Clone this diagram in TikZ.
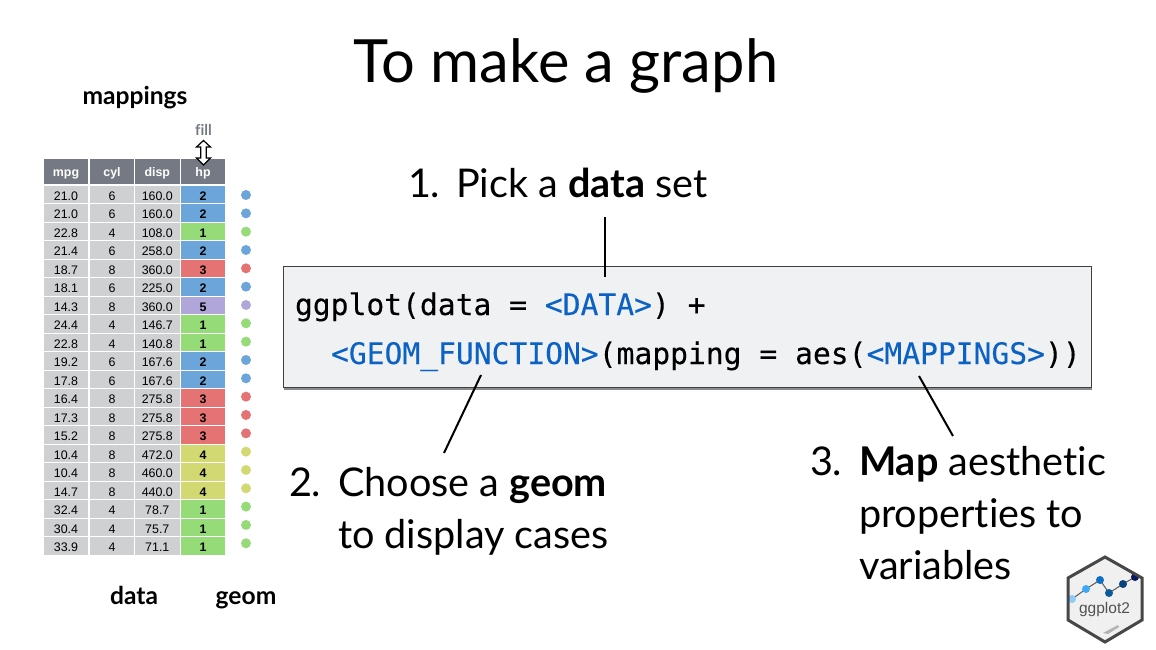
\documentclass[tikz,border=0pt]{standalone}
\usepackage{fontspec}
\setmainfont[Ligatures=NoCommon]{Lato}
\newfontfamily\tablefont{Liberation Sans}
\newfontfamily\codefont[FakeBold=0.2]{DejaVu Sans Mono}
\definecolor{hdr}{HTML}{747983}
\definecolor{cellg}{HTML}{CFD0D2}
\definecolor{cblue}{HTML}{6BA5DA}
\definecolor{cgreen}{HTML}{95DB77}
\definecolor{cred}{HTML}{E67373}
\definecolor{cpurple}{HTML}{B0A6DA}
\definecolor{cyel}{HTML}{D3D972}
\definecolor{codeblue}{HTML}{0B62C4}
\definecolor{boxfill}{HTML}{F0F1F3}
\definecolor{g1c}{HTML}{8CCBFA}
\definecolor{g2c}{HTML}{3FA9F5}
\definecolor{g3c}{HTML}{0F6FC6}
\definecolor{g4c}{HTML}{0B5A9A}
\definecolor{g5c}{HTML}{08437F}
\definecolor{g6c}{HTML}{0A1A5C}
\tikzset{
 every node/.style={inner sep=0pt,outer sep=0pt},
 cellbox/.style={minimum height=17.4pt,text height=12.2pt,text depth=0pt,font=\tablefont\fontsize{12.4}{13}\selectfont,text=black},
 hdrbox/.style={minimum height=25pt,text height=10.8pt,text depth=0.4pt,fill=hdr,text=white,font=\tablefont\bfseries\fontsize{12.4}{13}\selectfont},
 ttl/.style={font=\fontsize{59.6}{62}\selectfont},
 lab/.style={font=\bfseries\fontsize{24.6}{27}\selectfont},
 steptext/.style={font=\fontsize{39.6}{42}\selectfont,anchor=base west},
 code/.style={font=\codefont\fontsize{29.65}{32}\selectfont,anchor=base west},
 leader/.style={line width=2pt,black},
 geomdot/.style={circle,minimum size=10pt},
 gdot/.style={circle,minimum size=8pt},
}
\newcommand{\cb}[1]{\textcolor{codeblue}{#1}}
\begin{document}
\begin{tikzpicture}[x=1pt,y=-1pt]
\useasboundingbox (0,0) rectangle (1156,649);
\node[ttl,anchor=base] (title) at (566,82) {To make a graph};
\node[lab,anchor=base] (mappings) at (135,104) {mappings};
\node[lab,anchor=base] (data) at (134,604) {data};
\node[lab,anchor=base] (geom) at (246,604) {geom};
\node[anchor=base,font=\bfseries\fontsize{15}{17}\selectfont,text=hdr] (fill) at (203.5,135) {fill};
% header
\foreach \n/\x/\w/\t in {h1/66/44.5/mpg,h2/112/44.5/cyl,h3/157.3/44.5/disp,h4/203/44/hp}
  \node[hdrbox,minimum width=\w pt] (\n) at (\x,171.5) {\t};
% double arrow
\draw[draw=black,fill=white,line width=1.2pt] (203.5,140.5) -- (210.5,147) -- (206.3,147) -- (206.3,158) -- (210.5,158) -- (203.5,165) -- (196.5,158) -- (200.7,158) -- (200.7,147) -- (196.5,147) -- cycle;
% rows
\foreach \i/\a/\b/\c/\d/\col in {
0/21.0/6/160.0/2/cblue,1/21.0/6/160.0/2/cblue,2/22.8/4/108.0/1/cgreen,3/21.4/6/258.0/2/cblue,
4/18.7/8/360.0/3/cred,5/18.1/6/225.0/2/cblue,6/14.3/8/360.0/5/cpurple,7/24.4/4/146.7/1/cgreen,
8/22.8/4/140.8/1/cgreen,9/19.2/6/167.6/2/cblue,10/17.8/6/167.6/2/cblue,11/16.4/8/275.8/3/cred,
12/17.3/8/275.8/3/cred,13/15.2/8/275.8/3/cred,14/10.4/8/472.0/4/cyel,15/10.4/8/460.0/4/cyel,
16/14.7/8/440.0/4/cyel,17/32.4/4/78.7/1/cgreen,18/30.4/4/75.7/1/cgreen,19/33.9/4/71.1/1/cgreen}{
  \pgfmathsetmacro{\yy}{194.3+18.5*\i}
  \pgfmathsetmacro{\yd}{195+18.33*\i}
  \node[cellbox,fill=cellg,minimum width=44.5pt] (a\i) at (66,\yy) {\a};
  \node[cellbox,fill=cellg,minimum width=44.5pt] (b\i) at (112,\yy) {\b};
  \node[cellbox,fill=cellg,minimum width=44.5pt] (c\i) at (157.3,\yy) {\c};
  \node[cellbox,fill=\col,minimum width=44pt,font=\tablefont\bfseries\fontsize{12.4}{13}\selectfont,text=black] (d\i) at (203,\yy) {\d};
  \node[geomdot,fill=\col] (p\i) at (246,\yd) {};
}
% code box
\fill[black!45] (283.5,270) rectangle (1091.5,389.5);
\node[draw=black!75,line width=0.8pt,fill=boxfill,anchor=north west,minimum width=807.5pt,minimum height=121pt] (codebox) at (283.5,266.6) {};
\node[code] (line1) at (295,315) {ggplot(data = \cb{<DATA>}) +};
\node[code] (line2) at (331,364) {\cb{<GEOM\_FUNCTION>}(mapping = aes(\cb{<MAPPINGS>}))};
% steps
\node[steptext] (s1n) at (408,197) {1.};
\node[steptext] (s1) at (456,197) {Pick a \textbf{data} set};
\node[steptext] (s2n) at (289,496) {2.};
\node[steptext] (s2a) at (338,496) {Choose a \textbf{geom}};
\node[steptext] (s2b) at (338,548) {to display cases};
\node[steptext] (s3n) at (810,475) {3.};
\node[steptext] (s3a) at (859,475) {\textbf{Map} aesthetic};
\node[steptext] (s3b) at (859,527) {properties to};
\node[steptext] (s3c) at (859,579) {variables};
% leaders
\coordinate (l1a) at (605,217); \coordinate (l1b) at (605,277);
\coordinate (l2a) at (481,375); \coordinate (l2b) at (444,453);
\coordinate (l3a) at (919,376); \coordinate (l3b) at (953,436);
\draw[leader] (l1a) -- (l1b);
\draw[leader] (l2a) -- (l2b);
\draw[leader] (l3a) -- (l3b);
% hex logo
\coordinate (hx1) at (1105,557); \coordinate (hx2) at (1142,578); \coordinate (hx3) at (1142,620);
\coordinate (hx4) at (1105,642); \coordinate (hx5) at (1068,620); \coordinate (hx6) at (1068,578);
\begin{scope}
\clip (hx1) -- (hx2) -- (hx3) -- (hx4) -- (hx5) -- (hx6) -- cycle;
\fill[black!6] (1060,550) rectangle (1150,650);
\fill[black!30] (1103,633) -- (1118,625) -- (1119,627) -- (1108,634) -- cycle;
\node[gdot] (g1) at (1072,599) {}; \node[gdot] (g2) at (1086,589) {}; \node[gdot] (g3) at (1100,580) {};
\node[gdot] (g4) at (1109,593) {}; \node[gdot] (g5) at (1123,584) {}; \node[gdot] (g6) at (1135,577) {};
\draw[line width=1pt,black!65] (g1.center) -- (g2.center) -- (g3.center) -- (g4.center) -- (g5.center) -- (g6.center);
\fill[g1c] (g1) circle (4pt);
\fill[g2c] (g2) circle (4pt);
\fill[g3c] (g3) circle (4pt);
\fill[g4c] (g4) circle (4pt);
\fill[g5c] (g5) circle (4pt);
\fill[g6c] (g6) circle (4pt);
\end{scope}
\draw[line width=3pt,black!72,line join=miter] (hx1) -- (hx2) -- (hx3) -- (hx4) -- (hx5) -- (hx6) -- cycle;
\node[anchor=base,font=\tablefont\fontsize{15.5}{17}\selectfont,text=black!68] (logo) at (1104.5,613.5) {ggplot2};
\end{tikzpicture}
\end{document}
